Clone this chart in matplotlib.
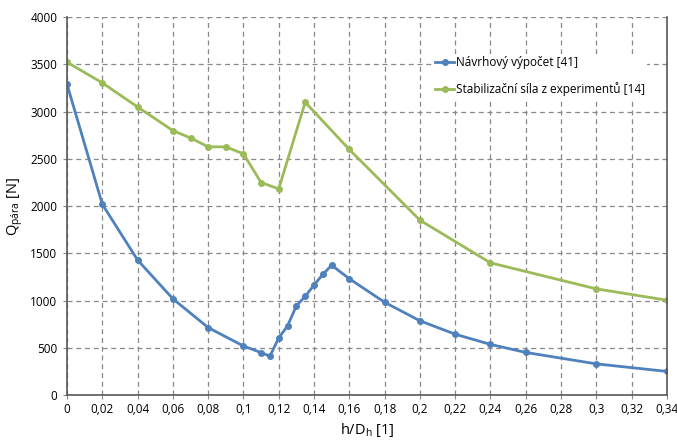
import matplotlib
matplotlib.use("Agg")
import matplotlib.pyplot as plt
from matplotlib.ticker import FuncFormatter, MultipleLocator

plt.rcParams['font.family'] = ['Open Sans', 'DejaVu Sans']
plt.rcParams['mathtext.default'] = 'regular'

# Navrhovy vypocet [41]
x_calc = [0, 0.02, 0.04, 0.06, 0.08, 0.10, 0.11, 0.115, 0.12, 0.125, 0.13, 0.135,
          0.14, 0.145, 0.15, 0.16, 0.18, 0.20, 0.22, 0.24, 0.26, 0.30, 0.34]
q_calc = [3290, 2020, 1430, 1020, 715, 520, 450, 412, 605, 733, 945, 1045,
          1165, 1278, 1375, 1232, 983, 787, 645, 537, 452, 331, 251]

# Stabilizacni sila z experimentu [14]
x_exp = [0, 0.02, 0.04, 0.06, 0.07, 0.08, 0.09, 0.10, 0.11, 0.12, 0.135, 0.16,
         0.20, 0.24, 0.30, 0.34]
q_exp = [3524, 3305, 3050, 2800, 2722, 2628, 2628, 2554, 2250, 2183, 3100, 2600,
         1852, 1400, 1125, 1005]

fig = plt.figure(figsize=(6.77, 4.41), dpi=100)
ax = fig.add_axes([0.099, 0.104, 0.886, 0.857])

ax.plot(x_calc, q_calc, color='#4F81BD', lw=2, marker='o', ms=4,
        label='Návrhový výpočet [41]')
ax.plot(x_exp, q_exp, color='#9BBB59', lw=2, marker='o', ms=4,
        label='Stabilizační síla z experimentů [14]')

ax.set_xlim(0, 0.34)
ax.set_ylim(0, 4000)
ax.xaxis.set_major_locator(MultipleLocator(0.02))
ax.yaxis.set_major_locator(MultipleLocator(500))
ax.xaxis.set_major_formatter(FuncFormatter(lambda v, p: ('%g' % round(v, 2)).replace('.', ',')))

ax.grid(True, color='#888888', linestyle=(0, (4, 3)), lw=0.9)
ax.set_axisbelow(True)
ax.spines['top'].set_visible(False)
for s in ['left', 'bottom', 'right']:
    ax.spines[s].set_color('#595959')
    ax.spines[s].set_linewidth(1.2)
ax.tick_params(length=3, color='#888888', labelsize=8.5, pad=3)
ax.tick_params(axis='y', pad=4)

ax.set_xlabel('h/D$_h$ [1]', fontsize=10.5, labelpad=3)
ax.set_ylabel('Q$_{pára}$ [N]', fontsize=10.5, labelpad=4)

leg = ax.legend(loc='upper left', bbox_to_anchor=(0.6, 0.918), frameon=True,
                fontsize=8.5, handlelength=1.6, handletextpad=0.15, labelspacing=1.1,
                borderpad=0.2, fancybox=False)
leg.get_frame().set_facecolor('white')
leg.get_frame().set_edgecolor('none')
leg.get_frame().set_alpha(1)

fig.savefig('out.png', dpi=100)
